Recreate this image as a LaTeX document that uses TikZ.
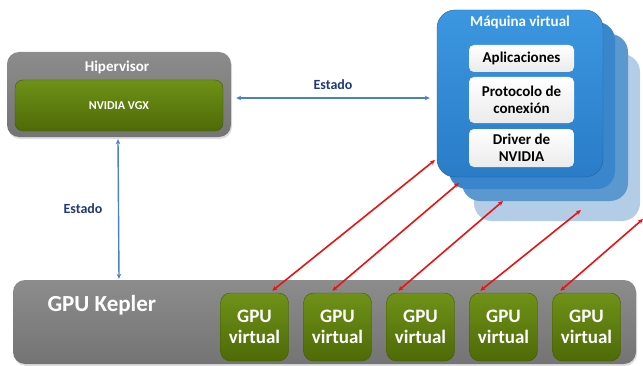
\documentclass[tikz,border=0pt]{standalone}
\usepackage{fontspec}
\setmainfont{Carlito}
\usetikzlibrary{arrows.meta,shadows}
\definecolor{grayhi}{HTML}{8C8C8C}
\definecolor{graylo}{HTML}{747474}
\definecolor{greenhi}{HTML}{6F9118}
\definecolor{greenlo}{HTML}{4E6A07}
\definecolor{bluehi}{HTML}{3C97E0}
\definecolor{bluelo}{HTML}{2A7CC7}
\definecolor{layerA}{HTML}{3A86CC}
\definecolor{layerB}{HTML}{5C98D0}
\definecolor{layerC}{HTML}{B3CDE7}
\definecolor{linkblue}{HTML}{4A80C4}
\definecolor{navy}{HTML}{1F3A78}
\definecolor{linkred}{HTML}{EE1111}
\tikzset{
  graybox/.style={rounded corners=12pt, top color=grayhi, bottom color=graylo,
    drop shadow={opacity=0.25, shadow xshift=1pt, shadow yshift=-2pt}},
  greenbox/.style={rounded corners=8pt, top color=greenhi, bottom color=greenlo,
    draw=greenlo!85!black, line width=0.4pt, text=white, inner sep=0pt},
  vmbox/.style={rounded corners=18pt, minimum width=166pt, minimum height=167pt},
  whitebox/.style={rounded corners=5pt, top color=white, bottom color=black!8,
    minimum width=105pt, inner sep=0pt, align=center,
    font=\bfseries\fontsize{15}{17}\selectfont},
  title/.style={text=white, font=\bfseries\fontsize{15}{17}\selectfont},
  statelabel/.style={text=navy, font=\bfseries\fontsize{14}{16}\selectfont},
  bluelink/.style={linkblue, line width=1.4pt, {Stealth[length=5pt,width=4.5pt]}-{Stealth[length=5pt,width=4.5pt]}},
  redlink/.style={linkred, line width=1.6pt, {Stealth[length=5pt,width=4.5pt]}-{Stealth[length=5pt,width=4.5pt]}}
}
\begin{document}
\begin{tikzpicture}[x=1pt,y=1pt]
\useasboundingbox (0,0) rectangle (643,365);
% hipervisor
\node[graybox, minimum width=224pt, minimum height=85pt] (hyp) at (119,270.5) {};
\node[title] (hyptitle) at (117,298) {Hipervisor};
\node[greenbox, minimum width=208pt, minimum height=51pt,
  font=\bfseries\fontsize{12}{14}\selectfont] (vgx) at (119,259.5) {NVIDIA VGX};
% maquina virtual, stacked copies behind
\foreach \k/\dx/\dy/\c in {3/37/44/layerC, 2/25/24/layerB, 1/12/12/layerA}
  \node[vmbox, fill=\c] (vm\k) at (520+\dx,271.5-\dy) {};
\node[vmbox, top color=bluehi, bottom color=bluelo, draw=bluelo!80!black, line width=0.4pt] (vm) at (520,271.5) {};
\node[title] (vmtitle) at (520,343) {Máquina virtual};
\node[whitebox, minimum height=27pt] (apps) at (521.5,306.5) {Aplicaciones};
\node[whitebox, minimum height=46pt] (proto) at (521.5,265) {Protocolo de\\conexión};
\node[whitebox, minimum height=38pt] (driver) at (521.5,217) {Driver de\\NVIDIA};
% gpu kepler
\node[graybox, minimum width=623pt, minimum height=84pt] (kepler) at (324.5,43) {};
\node[anchor=west, text=white, font=\bfseries\fontsize{23}{25}\selectfont] (keptitle) at (44,60) {GPU Kepler};
\foreach \i in {1,...,5}
  \node[greenbox, rounded corners=10pt, minimum width=68pt, minimum height=68pt, align=center,
    font=\bfseries\fontsize{19}{21}\selectfont] (g\i) at (171.5+83*\i,38) {GPU\\virtual};
% estado
\draw[bluelink] ([xshift=5pt,yshift=-3.5pt]hyp.east) -- ([xshift=-7pt]vm.west |- 0,267)
  node[midway, above=4pt, statelabel] (est1) {Estado};
\draw[bluelink] ([xshift=-1pt,yshift=-2pt]hyp.south) -- ([yshift=1pt]hyp.south |- kepler.north)
  node[midway, left=12pt, statelabel] (est2) {Estado};
% red links
\foreach \i/\tx/\ty/\dx in {1/435/205/52, 2/459/182/29, 3/503/164/12, 4/581/155/11, 5/643/146/8}{
  \coordinate (t\i) at (\tx,\ty);
  \draw[redlink] (t\i) -- ([shift={(\dx,2)}]g\i.north west);
}
\end{tikzpicture}
\end{document}
